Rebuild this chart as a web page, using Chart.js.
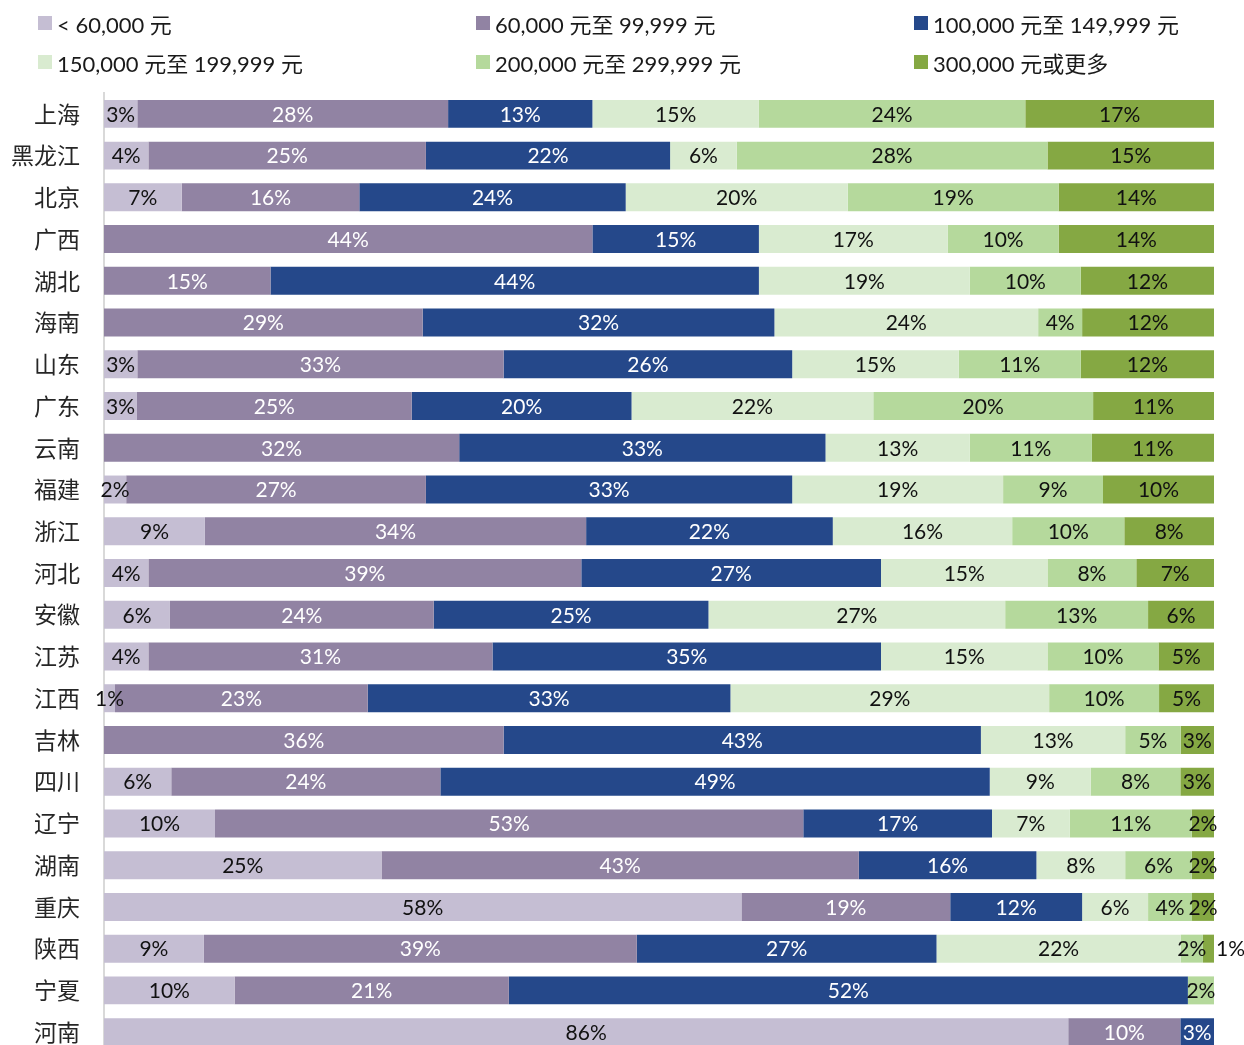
<!DOCTYPE html>
<html>
<head>
<meta charset="utf-8">
<script src="https://cdn.jsdelivr.net/npm/chart.js@4.4.1/dist/chart.umd.min.js"></script>
<style>
  html, body { margin: 0; padding: 0; background: #fff; overflow: hidden; }
  #wrap { position: relative; width: 1244px; height: 1045px; overflow: hidden; }
  #legend { position: absolute; left: 0; top: 0; width: 1244px; height: 90px;
            font-family: Lato, "Noto Sans CJK SC", sans-serif; font-size: 22px; color: #1a1a1a; }
  .item { position: absolute; display: flex; align-items: center; white-space: nowrap; height: 28px; }
  .box { width: 14px; height: 14px; margin-right: 5px; }
  #chart { position: absolute; left: 0; top: 0; }
</style>
</head>
<body>
<div id="wrap">
  <canvas id="chart" width="1244" height="1093"></canvas>
  <div id="legend"></div>
</div>
<script>
// 各省份家庭年收入分布（百分比）
const provinces = ['上海', '黑龙江', '北京', '广西', '湖北', '海南', '山东', '广东', '云南', '福建', '浙江', '河北',
  '安徽', '江苏', '江西', '吉林', '四川', '辽宁', '湖南', '重庆', '陕西', '宁夏', '河南'];

const seriesNames = ['< 60,000 元', '60,000 元至 99,999 元', '100,000 元至 149,999 元',
  '150,000 元至 199,999 元', '200,000 元至 299,999 元', '300,000 元或更多'];

const below60k   = [3, 4, 7, 0, 0, 0, 3, 3, 0, 2, 9, 4, 6, 4, 1, 0, 6, 10, 25, 58, 9, 10, 86];
const k60to100   = [28, 25, 16, 44, 15, 29, 33, 25, 32, 27, 34, 39, 24, 31, 23, 36, 24, 53, 43, 19, 39, 21, 10];
const k100to150  = [13, 22, 24, 15, 44, 32, 26, 20, 33, 33, 22, 27, 25, 35, 33, 43, 49, 17, 16, 12, 27, 52, 3];
const k150to200  = [15, 6, 20, 17, 19, 24, 15, 22, 13, 19, 16, 15, 27, 15, 29, 13, 9, 7, 8, 6, 22, 0, 0];
const k200to300  = [24, 28, 19, 10, 10, 4, 11, 20, 11, 9, 10, 8, 13, 10, 10, 5, 8, 11, 6, 4, 2, 2, 0];
const k300plus   = [17, 15, 14, 14, 12, 12, 12, 11, 11, 10, 8, 7, 6, 5, 5, 3, 3, 2, 2, 2, 1, 0, 0];

const series = [below60k, k60to100, k100to150, k150to200, k200to300, k300plus];
const colors = ['#c5bed3', '#9183a3', '#25488a', '#d9ebd0', '#b5d99c', '#85a843'];
const textColors = ['#111', '#fff', '#fff', '#111', '#111', '#111'];

// 每行按合计归一化为 100%
const rowTotals = provinces.map((_, i) => series.reduce((s, arr) => s + arr[i], 0));

// 图例
const legendEl = document.getElementById('legend');
seriesNames.forEach((name, i) => {
  const item = document.createElement('div');
  item.className = 'item';
  item.style.left = (38 + (i % 3) * 438) + 'px';
  item.style.top = (9 + Math.floor(i / 3) * 39) + 'px';
  item.innerHTML = '<span class="box" style="background:' + colors[i] + '"></span><span>' + name + '</span>';
  legendEl.appendChild(item);
});

// 在每段中央写出百分比
const barLabels = {
  id: 'barLabels',
  afterDatasetsDraw(chart) {
    const ctx = chart.ctx;
    const sets = chart.data.datasets;
    ctx.save();
    ctx.font = '21px Lato, "Noto Sans", sans-serif';
    ctx.textBaseline = 'middle';
    sets.forEach((ds, di) => {
      chart.getDatasetMeta(di).data.forEach((bar, i) => {
        const v = ds.raw[i];
        if (!v) return;
        const text = v + '%';
        const w = ctx.measureText(text).width;
        const segW = Math.abs(bar.x - bar.base);
        const isLast = sets.slice(di + 1).every(d => !d.raw[i]);
        if (isLast && w > segW * 2) {
          ctx.fillStyle = '#111';
          ctx.textAlign = 'left';
          ctx.fillText(text, bar.x + 2, bar.y + 1);
        } else {
          ctx.fillStyle = ds.labelColor;
          ctx.textAlign = 'center';
          ctx.fillText(text, (bar.x + bar.base) / 2, bar.y + 1);
        }
      });
    });
    ctx.restore();
  }
};

new Chart(document.getElementById('chart'), {
  type: 'bar',
  data: {
    labels: provinces,
    datasets: series.map((arr, si) => ({
      label: seriesNames[si],
      raw: arr,
      labelColor: textColors[si],
      data: arr.map((v, i) => v / rowTotals[i] * 100),
      backgroundColor: colors[si],
      borderWidth: 0,
      barPercentage: 0.67,
      categoryPercentage: 1
    }))
  },
  options: {
    indexAxis: 'y',
    responsive: false,
    animation: false,
    devicePixelRatio: 1,
    layout: { padding: { top: 93, bottom: 40, left: 0, right: 30 } },
    plugins: { legend: { display: false }, tooltip: { enabled: false } },
    scales: {
      x: { stacked: true, min: 0, max: 100, display: false },
      y: {
        stacked: true,
        grid: { display: false },
        border: { display: true, color: '#d9d9d9', width: 2 },
        ticks: {
          padding: 16,
          color: '#262626',
          font: { family: '"Noto Sans CJK SC", sans-serif', size: 23 }
        },
        afterFit(scale) { scale.width = 104; }
      }
    }
  },
  plugins: [barLabels]
});
</script>
</body>
</html>
